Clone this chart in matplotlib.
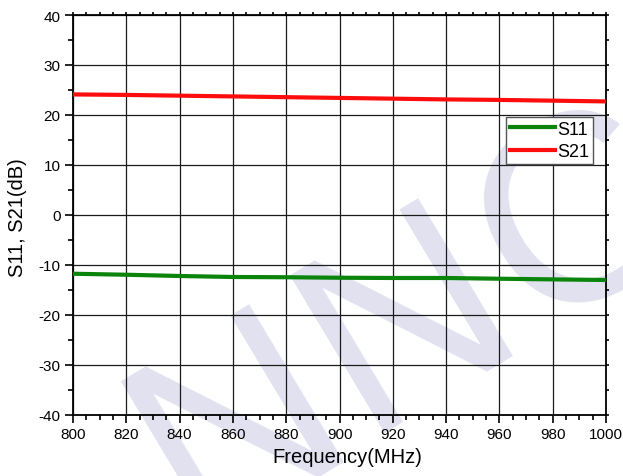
import numpy as np
import matplotlib
matplotlib.use('Agg')
import matplotlib.pyplot as plt
from matplotlib.ticker import MultipleLocator

plt.rcParams['font.family'] = ['Liberation Sans', 'DejaVu Sans']
plt.rcParams['axes.unicode_minus'] = False

# --- data ---
freq = [800, 820, 840, 860, 880, 900, 920, 940, 960, 980, 1000]
s11 = [-11.8, -12.0, -12.25, -12.45, -12.5, -12.6, -12.65, -12.65, -12.8, -12.93, -13.05]
s21 = [24.1, 24.0, 23.85, 23.7, 23.55, 23.4, 23.25, 23.1, 23.0, 22.85, 22.7]

W, H = 623, 477
fig = plt.figure(figsize=(W / 100, H / 100), dpi=100)
ax = fig.add_axes([73 / W, 1 - 415.6 / H, 533 / W, 399.6 / H])
ax.patch.set_alpha(0)

# watermark letters behind the axes (baseline origin in pixels from top-left)
wm_letters = ['N', 'N', 'C']
wm_pos = [(194, 539), (363, 433), (535, 331)]
for ch, (px, py) in zip(wm_letters, wm_pos):
    fig.text(px / W, 1 - py / H, ch, fontsize=193, color='#e1e1f0',
             rotation=31, rotation_mode='anchor', ha='left', va='baseline',
             zorder=-1)

ax.plot(freq, s11, color='#0b840b', lw=3, label='S11', zorder=3)
ax.plot(freq, s21, color='#ff0d0d', lw=3, label='S21', zorder=3)

ax.set_xlim(800, 1000)
ax.set_ylim(-40, 40)
ax.xaxis.set_major_locator(MultipleLocator(20))
ax.xaxis.set_minor_locator(MultipleLocator(5))
ax.yaxis.set_major_locator(MultipleLocator(10))
ax.yaxis.set_minor_locator(MultipleLocator(5))
ax.grid(which='major', color='#1a1a1a', lw=0.9, zorder=1)

ax.tick_params(which='both', direction='out', top=True, right=True,
               labelsize=11, width=1.2, colors='black')
ax.tick_params(which='major', length=6, pad=3)
ax.tick_params(which='minor', length=3.5)
for axis in (ax.xaxis, ax.yaxis):
    for t in axis.get_major_ticks() + axis.get_minor_ticks():
        t.tick2line.set_markersize(2.5)
for s in ax.spines.values():
    s.set_linewidth(1.3)

ax.set_xlabel('Frequency(MHz)', fontsize=14.5)
ax.set_ylabel('S11, S21(dB)', fontsize=14.5)
ax.xaxis.set_label_coords(0.514, -0.081)
ax.yaxis.set_label_coords(-0.087, 0.496)

leg = ax.legend(loc='upper right', bbox_to_anchor=(0.9756, 0.7447),
                fontsize=13, handlelength=2.5, handletextpad=0.15,
                borderpad=0.2, labelspacing=0.3, borderaxespad=0,
                fancybox=False, framealpha=1, edgecolor='#555555')
leg.get_frame().set_linewidth(1.0)

plt.savefig('out.png', dpi=100)
